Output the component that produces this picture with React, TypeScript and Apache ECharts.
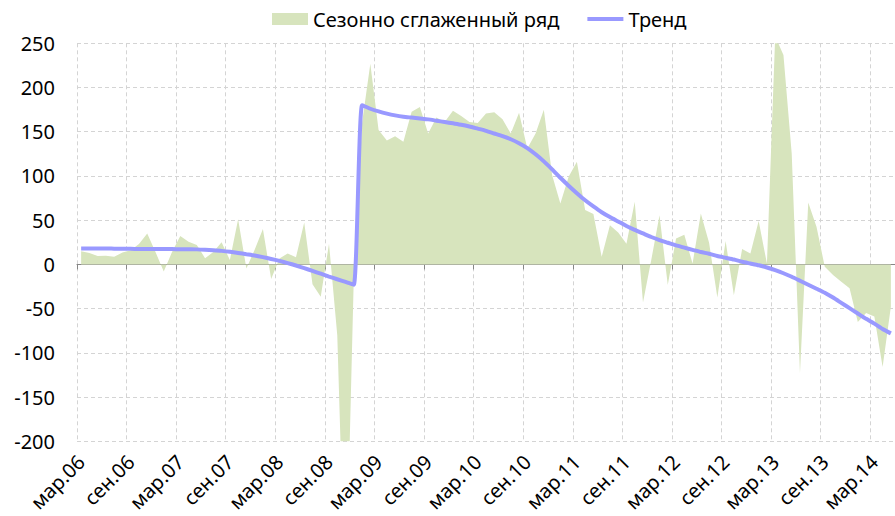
import React, { useEffect, useRef } from "react";
import * as echarts from "echarts";

const MONTH_NAMES = ["янв", "фев", "мар", "апр", "май", "июн", "июл", "авг", "сен", "окт", "ноя", "дек"];
const START_YEAR = 2006;
const START_MONTH = 2; // March
const MONTH_COUNT = 99; // Mar 2006 .. May 2014

const categories: string[] = [];
for (let i = 0; i < MONTH_COUNT; i++) {
  const m = (START_MONTH + i) % 12;
  const y = START_YEAR + Math.floor((START_MONTH + i) / 12);
  categories.push(MONTH_NAMES[m] + "." + String(y % 100).padStart(2, "0"));
}

const seasonal: number[] = [
  15, 13, 9.5, 9.7, 8.6, 13.5, 16, 23, 35, 14, -8, 14,
  32, 25.6, 22, 7, 14, 25, 5, 51, -4.5, 16.5, 40, -16.5,
  6.8, 12.4, 8, 47.5, -22.5, -36.6, 23.5, -80, -390, -15, 160, 227,
  152, 140, 145, 138.6, 172.5, 178, 148, 166, 161, 173.7, 167.7, 161,
  160, 170.7, 172, 164, 148, 171.5, 131, 148, 175, 101, 69, 99,
  116, 61.4, 57, 8.6, 44.4, 36, 23.5, 70.8, -43, 5, 55.7, -23.4,
  29.4, 33.5, 1, 57.5, 24.5, -37.5, 26.5, -35, 17.5, 12.4, 49, 1,
  258, 236.7, 125.5, -123, 70, 42.5, -2.7, -12, -19.6, -27, -65, -55,
  -59, -116, -48,
];

const trend: number[] = [
  18, 18, 18, 18, 17.8, 17.7, 17.6, 17.5, 17.4, 17.4, 17.3, 17.3,
  17.2, 17.1, 17, 16.6, 16, 15.3, 14.3, 13, 11.5, 10, 8.2, 6.2,
  4, 1.5, -1.2, -4.2, -7.3, -10.5, -13.7, -16.8, -19.8, -23, 180, 176,
  173, 170.5, 168.5, 167, 166, 165, 164, 162.5, 161, 159.5, 158, 156,
  153.5, 151, 148, 145, 141.5, 137, 131.5, 124.5, 116.5, 107.5, 98, 89,
  80.5, 72.5, 65.5, 59, 53.5, 48.5, 43.5, 39, 35, 31, 27.5, 24.5,
  21.5, 19, 16.5, 14, 12, 9.5, 7.5, 5.5, 3, 1, -1, -3.5,
  -6.5, -10, -14, -18.5, -23, -27.5, -32, -37.5, -43.5, -49.5, -55.5, -61.5,
  -67, -73, -78,
];

const SERIES_NAMES = ["Сезонно сглаженный ряд", "Тренд"];

export default function App() {
  const ref = useRef<HTMLDivElement>(null);
  useEffect(() => {
    if (!ref.current) return;
    const chart = echarts.init(ref.current, null, { renderer: "svg" });
    const font = "'Noto Sans', 'Open Sans', sans-serif";
    const grid = { lineStyle: { color: "#d4d4d4", type: [4, 3] as any, width: 1 } };
    chart.setOption({
      animation: false,
      textStyle: { fontFamily: font },
      legend: {
        left: 272,
        top: 9,
        padding: 0,
        itemWidth: 36,
        itemHeight: 12,
        itemGap: 28,
        textStyle: { fontSize: 20, color: "#000", fontFamily: font },
        data: [
          { name: SERIES_NAMES[0], icon: "rect" },
          { name: SERIES_NAMES[1], icon: "path://M0,0 L36,0 L36,4 L0,4 Z", itemStyle: { color: "#9999ff" } },
        ],
      },
      grid: { left: 77, top: 43.3, width: 819, height: 398 },
      xAxis: [
        {
          type: "category",
          data: categories,
          position: "bottom",
          boundaryGap: true,
          axisLine: { show: false, onZero: false },
          axisTick: { show: false },
          axisLabel: {
            interval: 5,
            rotate: 45,
            fontSize: 20,
            color: "#000",
            margin: 17,
            fontFamily: font,
          },
          splitLine: { show: true, interval: 5, ...grid },
        },
        {
          type: "category",
          data: categories,
          position: "top",
          boundaryGap: true,
          axisLine: { show: true, onZero: true, lineStyle: { color: "#868686", width: 1 } },
          axisTick: { show: true, inside: true, interval: 5, length: 5, lineStyle: { color: "#868686" } },
          axisLabel: { show: false },
          splitLine: { show: false },
        },
      ],
      yAxis: {
        type: "value",
        min: -200,
        max: 250,
        interval: 50,
        axisLine: { show: false },
        axisTick: { show: false },
        axisLabel: { fontSize: 20, color: "#000", margin: 22, fontFamily: font },
        splitLine: { show: true, ...grid },
      },
      series: [
        {
          name: SERIES_NAMES[0],
          type: "line",
          data: seasonal,
          xAxisIndex: 0,
          symbol: "none",
          color: "#d7e4bd",
          lineStyle: { width: 0, color: "#d7e4bd" },
          areaStyle: { color: "#d7e4bd", opacity: 1 },
          clip: true,
          z: 1,
        },
        {
          name: SERIES_NAMES[1],
          type: "line",
          data: trend,
          xAxisIndex: 0,
          symbol: "none",
          smooth: 0.2,
          color: "#9999ff",
          lineStyle: { width: 4, color: "#9999ff" },
          clip: true,
          z: 3,
        },
      ],
    });
    return () => chart.dispose();
  }, []);
  return (
    <div
      ref={ref}
      style={{ position: "fixed", left: 0, top: 0, width: 895, height: 516, background: "#fff" }}
    />
  );
}
